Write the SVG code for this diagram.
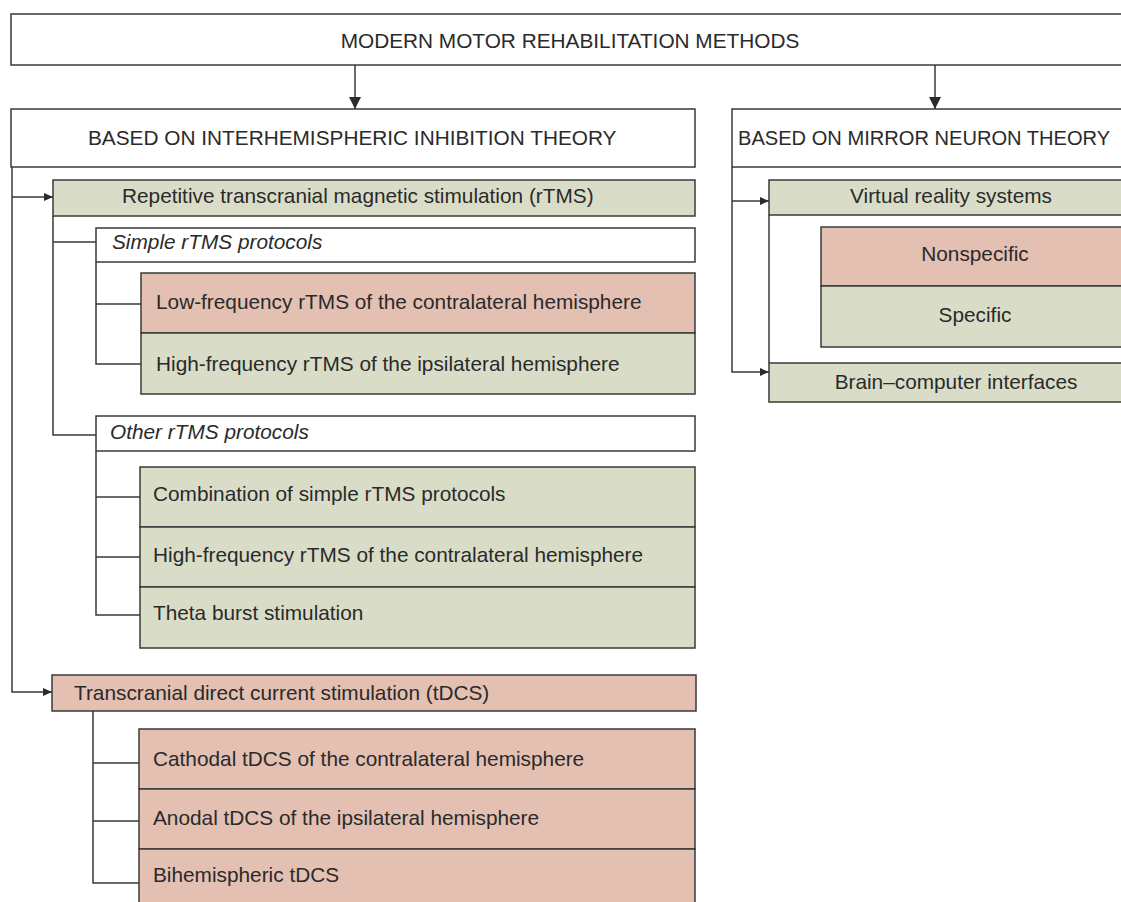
<svg xmlns="http://www.w3.org/2000/svg" width="1121" height="902" viewBox="0 0 1121 902">
<defs>
<marker id="arrD" markerWidth="12" markerHeight="12" refX="12" refY="6" orient="auto" markerUnits="userSpaceOnUse">
<path d="M0,0 L12,6 L0,12 Z" fill="#2b2b2b"/>
</marker>
<marker id="arrS" markerWidth="9" markerHeight="8" refX="9" refY="4" orient="auto" markerUnits="userSpaceOnUse">
<path d="M0,0 L9,4 L0,8 Z" fill="#2b2b2b"/>
</marker>
</defs>
<style>
.box{stroke:#3a3a3a;stroke-width:1.5}
.w{fill:#ffffff}
.g{fill:#d9ddc7}
.p{fill:#e3c0b2}
text{font-family:"Liberation Sans",Arial,sans-serif;font-size:20.8px;fill:#2a2a2a}
.c{text-anchor:middle}
.i{font-style:italic}
.ln{fill:none;stroke:#3a3a3a;stroke-width:1.5}
</style>
<rect width="1121" height="902" fill="#ffffff"/>
<g id="title"><rect class="box w" x="11" y="14" width="1130" height="51"/><text class="c" x="570" y="48">MODERN MOTOR REHABILITATION METHODS</text></g>
<g id="interhemispheric"><rect class="box w" x="11" y="109" width="684" height="58"/><text x="88" y="145">BASED ON INTERHEMISPHERIC INHIBITION THEORY</text></g>
<g id="mirror"><rect class="box w" x="732" y="109" width="409" height="58"/><text x="738" y="145" style="font-size:20.1px">BASED ON MIRROR NEURON THEORY</text></g>
<g id="rtms"><rect class="box g" x="53" y="180" width="642" height="36"/><text x="122" y="203">Repetitive transcranial magnetic stimulation (rTMS)</text></g>
<g id="simple"><rect class="box w" x="96" y="228" width="599" height="34"/><text class="i" x="112" y="249">Simple rTMS protocols</text></g>
<g id="lowfreq"><rect class="box p" x="141" y="273" width="554" height="60"/><text x="156" y="309">Low-frequency rTMS of the contralateral hemisphere</text></g>
<g id="highipsi"><rect class="box g" x="141" y="333" width="554" height="61"/><text x="156" y="371">High-frequency rTMS of the ipsilateral hemisphere</text></g>
<g id="other"><rect class="box w" x="96" y="416" width="599" height="35"/><text class="i" x="110" y="439">Other rTMS protocols</text></g>
<g id="combination"><rect class="box g" x="140" y="467" width="555" height="60"/><text x="153" y="501">Combination of simple rTMS protocols</text></g>
<g id="highcontra"><rect class="box g" x="140" y="527" width="555" height="60"/><text x="153" y="562">High-frequency rTMS of the contralateral hemisphere</text></g>
<g id="theta"><rect class="box g" x="140" y="587" width="555" height="61"/><text x="153" y="620">Theta burst stimulation</text></g>
<g id="tdcs"><rect class="box p" x="52" y="675" width="644" height="36"/><text x="74" y="700">Transcranial direct current stimulation (tDCS)</text></g>
<g id="cathodal"><rect class="box p" x="139" y="729" width="556" height="60"/><text x="153" y="766">Cathodal tDCS of the contralateral hemisphere</text></g>
<g id="anodal"><rect class="box p" x="139" y="789" width="556" height="60"/><text x="153" y="825">Anodal tDCS of the ipsilateral hemisphere</text></g>
<g id="bihemispheric"><rect class="box p" x="139" y="849" width="556" height="70"/><text x="153" y="882">Bihemispheric tDCS</text></g>
<g id="vr"><rect class="box g" x="769" y="180" width="372" height="35"/><text class="c" x="951" y="203">Virtual reality systems</text></g>
<g id="nonspecific"><rect class="box p" x="821" y="227" width="320" height="59"/><text class="c" x="975" y="261">Nonspecific</text></g>
<g id="specific"><rect class="box g" x="821" y="286" width="320" height="61"/><text class="c" x="975" y="322">Specific</text></g>
<g id="bci"><rect class="box g" x="769" y="363" width="372" height="39"/><text class="c" x="956" y="389">Brain–computer interfaces</text></g>
<g id="connectors">
<line class="ln" x1="355" y1="65" x2="355" y2="109" marker-end="url(#arrD)"/>
<line class="ln" x1="935" y1="65" x2="935" y2="109" marker-end="url(#arrD)"/>
<path class="ln" d="M12,167 V692 H52" marker-end="url(#arrS)"/>
<line class="ln" x1="12" y1="197" x2="53" y2="197" marker-end="url(#arrS)"/>
<path class="ln" d="M53,216 V435 H96 M53,242 H96"/>
<path class="ln" d="M96,262 V364 H141 M96,304 H141"/>
<path class="ln" d="M96,451 V615 H140 M96,497 H140 M96,557 H140"/>
<path class="ln" d="M93,711 V883 H139 M93,763 H139 M93,821 H139"/>
<path class="ln" d="M732,167 V372 H769" marker-end="url(#arrS)"/>
<line class="ln" x1="732" y1="201" x2="769" y2="201" marker-end="url(#arrS)"/>
<line class="ln" x1="769" y1="215" x2="769" y2="363"/>
</g>
</svg>
